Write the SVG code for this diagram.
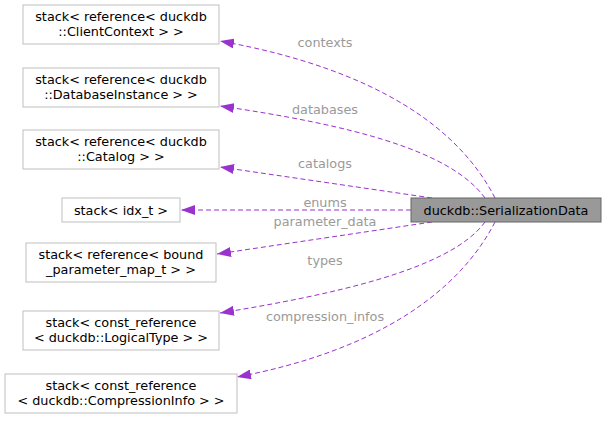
<svg xmlns="http://www.w3.org/2000/svg" width="607" height="421" viewBox="0 0 607 421">
<style>
.n rect{fill:#fff;stroke:#bfbfbf;stroke-width:1}
text{font-family:"DejaVu Sans",sans-serif;font-size:12.8px;fill:#000;text-anchor:middle}
.e path{fill:none;stroke:#9a32cd;stroke-width:1;stroke-dasharray:5,3}
.l{fill:#9a9a9a}
</style>
<defs><marker id="a" viewBox="0 0 14 10" refX="14" refY="5" markerWidth="14" markerHeight="10" markerUnits="userSpaceOnUse" orient="auto"><path d="M0,0L14,5L0,10z" fill="#9a32cd"/></marker></defs>
<rect width="607" height="421" fill="#fff"/>
<g class="e">
<path marker-end="url(#a)" d="M495,198C460,130 380,70 220,41"/>
<path marker-end="url(#a)" d="M485,198C450,150 350,125 220,106"/>
<path marker-end="url(#a)" d="M432,198L220,167"/>
<path marker-end="url(#a)" d="M411,210L181,210"/>
<path marker-end="url(#a)" d="M432,222L217,254"/>
<path marker-end="url(#a)" d="M485,222C450,270 330,295 220,313"/>
<path marker-end="url(#a)" d="M495,222C460,290 380,350 237,377"/>
</g>
<g>
<text class="l" x="325" y="47">contexts</text>
<text class="l" x="325" y="114">databases</text>
<text class="l" x="325" y="168">catalogs</text>
<text class="l" x="325" y="207">enums</text>
<text class="l" x="325" y="226">parameter_data</text>
<text class="l" x="325" y="265">types</text>
<text class="l" x="325" y="321">compression_infos</text>
</g>
<g id="main"><rect x="411" y="198" width="190" height="24" fill="#999" stroke="#666"/><text x="506" y="215">duckdb::SerializationData</text></g>
<g id="n1" class="n"><rect x="23" y="5" width="196" height="39"/><text x="121" y="21">stack&lt; reference&lt; duckdb</text><text x="121" y="36">::ClientContext &gt; &gt;</text></g>
<g id="n2" class="n"><rect x="23" y="68" width="196" height="39"/><text x="121" y="84">stack&lt; reference&lt; duckdb</text><text x="121" y="99">::DatabaseInstance &gt; &gt;</text></g>
<g id="n3" class="n"><rect x="23" y="130" width="196" height="39"/><text x="121" y="146">stack&lt; reference&lt; duckdb</text><text x="121" y="161">::Catalog &gt; &gt;</text></g>
<g id="n4" class="n"><rect x="62" y="198" width="118" height="24"/><text x="121" y="215">stack&lt; idx_t &gt;</text></g>
<g id="n5" class="n"><rect x="26" y="243" width="190" height="39"/><text x="121" y="259">stack&lt; reference&lt; bound</text><text x="121" y="274">_parameter_map_t &gt; &gt;</text></g>
<g id="n6" class="n"><rect x="23" y="311" width="196" height="39"/><text x="121" y="327">stack&lt; const_reference</text><text x="121" y="342">&lt; duckdb::LogicalType &gt; &gt;</text></g>
<g id="n7" class="n"><rect x="5" y="374" width="232" height="39"/><text x="121" y="390">stack&lt; const_reference</text><text x="121" y="405">&lt; duckdb::CompressionInfo &gt; &gt;</text></g>
</svg>
